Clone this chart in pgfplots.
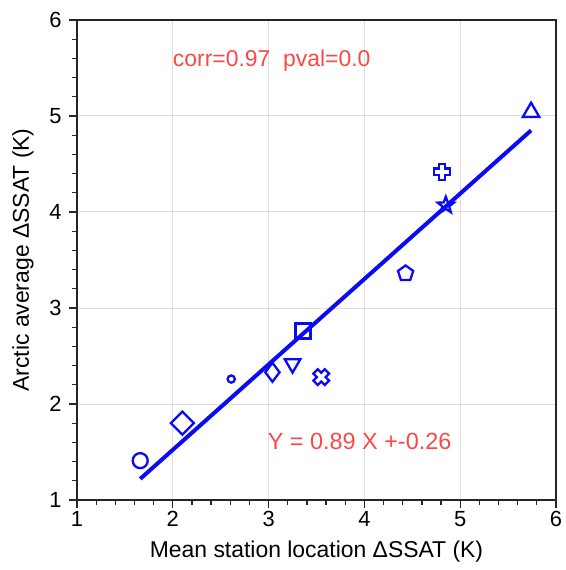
\documentclass[border=0pt]{standalone}
\usepackage{fontspec}
\setmainfont{Liberation Sans}
\usepackage{pgfplots}
\pgfplotsset{compat=1.18}

\definecolor{mkblue}{RGB}{10,10,245}
\definecolor{txtred}{RGB}{250,72,72}

% outlined plus, x and star marks
\pgfdeclareplotmark{openplus}{%
  \pgfpathmoveto{\pgfqpoint{-0.38\pgfplotmarksize}{\pgfplotmarksize}}%
  \pgfpathlineto{\pgfqpoint{0.38\pgfplotmarksize}{\pgfplotmarksize}}%
  \pgfpathlineto{\pgfqpoint{0.38\pgfplotmarksize}{0.38\pgfplotmarksize}}%
  \pgfpathlineto{\pgfqpoint{\pgfplotmarksize}{0.38\pgfplotmarksize}}%
  \pgfpathlineto{\pgfqpoint{\pgfplotmarksize}{-0.38\pgfplotmarksize}}%
  \pgfpathlineto{\pgfqpoint{0.38\pgfplotmarksize}{-0.38\pgfplotmarksize}}%
  \pgfpathlineto{\pgfqpoint{0.38\pgfplotmarksize}{-\pgfplotmarksize}}%
  \pgfpathlineto{\pgfqpoint{-0.38\pgfplotmarksize}{-\pgfplotmarksize}}%
  \pgfpathlineto{\pgfqpoint{-0.38\pgfplotmarksize}{-0.38\pgfplotmarksize}}%
  \pgfpathlineto{\pgfqpoint{-\pgfplotmarksize}{-0.38\pgfplotmarksize}}%
  \pgfpathlineto{\pgfqpoint{-\pgfplotmarksize}{0.38\pgfplotmarksize}}%
  \pgfpathlineto{\pgfqpoint{-0.38\pgfplotmarksize}{0.38\pgfplotmarksize}}%
  \pgfpathclose
  \pgfusepathqstroke}
\pgfdeclareplotmark{openx}{%
  \pgftransformrotate{45}%
  \pgfuseplotmark{openplus}}
\pgfdeclareplotmark{openstar}{%
  \pgfpathmoveto{\pgfpointpolar{90}{\pgfplotmarksize}}%
  \pgfpathlineto{\pgfpointpolar{126}{0.42\pgfplotmarksize}}%
  \pgfpathlineto{\pgfpointpolar{162}{\pgfplotmarksize}}%
  \pgfpathlineto{\pgfpointpolar{198}{0.42\pgfplotmarksize}}%
  \pgfpathlineto{\pgfpointpolar{234}{\pgfplotmarksize}}%
  \pgfpathlineto{\pgfpointpolar{270}{0.42\pgfplotmarksize}}%
  \pgfpathlineto{\pgfpointpolar{306}{\pgfplotmarksize}}%
  \pgfpathlineto{\pgfpointpolar{342}{0.42\pgfplotmarksize}}%
  \pgfpathlineto{\pgfpointpolar{18}{\pgfplotmarksize}}%
  \pgfpathlineto{\pgfpointpolar{54}{0.42\pgfplotmarksize}}%
  \pgfpathclose
  \pgfusepathqstroke}

\begin{document}
\begin{tikzpicture}
\begin{axis}[
    scale only axis,
    width=479bp,
    height=480bp,
    xmin=1, xmax=6,
    ymin=1, ymax=6,
    xtick={1,2,...,6},
    ytick={1,2,...,6},
    minor tick num=4,
    tick align=outside,
    xtick pos=bottom,
    ytick pos=left,
    major tick length=8bp,
    minor tick length=5bp,
    every tick/.style={black!85, line width=1.3bp},
    grid=major,
    major grid style={black!13, line width=1bp},
    axis line style={black!85, line width=1.8bp},
    tick label style={font=\fontsize{22}{25}\selectfont},
    yticklabel style={xshift=-4bp},
    /pgf/number format/assume math mode=true,
    label style={font=\fontsize{23}{26}\selectfont},
    xlabel={Mean station location ΔSSAT (K)},
    ylabel={Arctic average ΔSSAT (K)},
    xlabel style={at={([yshift=-52bp]axis description cs:0.5,0)}, anchor=center},
    ylabel style={at={([xshift=-54bp]axis description cs:0,0.5)}, anchor=center},
    clip=false,
    every axis plot/.append style={mkblue, line width=2.3bp},
]
% regression line
\addplot[mkblue, line width=4bp, no marks] coordinates {(1.66,1.22) (5.74,4.85)};
% models
\addplot[only marks, mark=o, mark size=7.5bp] coordinates {(1.66,1.41)};
\addplot[only marks, mark=diamond, mark size=11.5bp, mark options={xscale=1.33}] coordinates {(2.10,1.80)};
\addplot[only marks, mark=o, mark size=3.6bp] coordinates {(2.61,2.26)};
\addplot[only marks, mark=diamond, mark size=9.5bp] coordinates {(3.04,2.33)};
\addplot[only marks, mark=triangle, mark size=9bp, mark options={rotate=180}] coordinates {(3.25,2.42)};
\addplot[only marks, mark=openx, mark size=8bp] coordinates {(3.55,2.28)};
\addplot[only marks, mark=square, mark size=7.5bp] coordinates {(3.36,2.76)};
\addplot[only marks, mark=pentagon, mark size=8bp] coordinates {(4.43,3.36)};
\addplot[only marks, mark=openplus, mark size=8bp] coordinates {(4.81,4.42)};
\addplot[only marks, mark=openstar, mark size=8.5bp] coordinates {(4.85,4.07)};
\addplot[only marks, mark=triangle, mark size=9.5bp] coordinates {(5.74,5.04)};
\node[anchor=west, text=txtred, font=\fontsize{23}{26}\selectfont, inner sep=0pt]
  at (axis cs:2.0,5.58) {corr=0.97\ \ pval=0.0};
\node[anchor=west, text=txtred, font=\fontsize{23.5}{26}\selectfont, inner sep=0pt]
  at (axis cs:2.99,1.61) {Y = 0.89 X +-0.26};
\end{axis}
\path ([xshift=-77bp,yshift=-70bp]current axis.south west)
  rectangle ([xshift=7bp,yshift=20bp]current axis.north east);
\end{tikzpicture}
\end{document}
